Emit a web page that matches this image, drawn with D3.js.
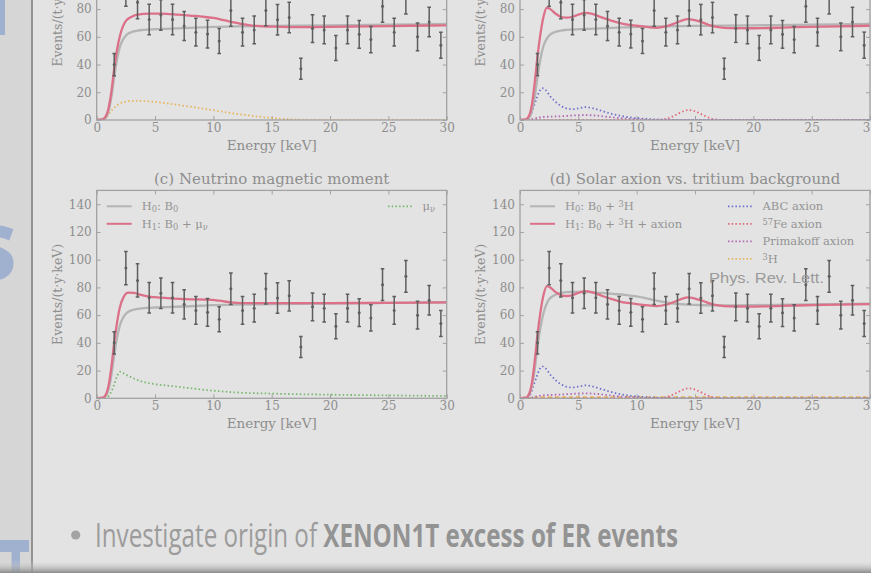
<!DOCTYPE html>
<html><head><meta charset="utf-8">
<script src="https://cdn.jsdelivr.net/npm/d3@7"></script>
<style>body{margin:0;background:#e3e3e3;} svg{display:block}</style>
</head><body><svg id="c" width="871" height="576"></svg>
<script>
// ---------- data ----------
const energy = [1.5,2.5,3.5,4.5,5.5,6.5,7.5,8.5,9.5,10.5,11.5,12.5,13.5,14.5,15.5,16.5,17.5,18.5,19.5,20.5,21.5,22.5,23.5,24.5,25.5,26.5,27.5,28.5,29.5];
const counts = [40,94,85,72.5,75.8,72.5,67.8,63.4,62,57,79,63.4,65,79,72.4,73.9,37,66,65,52,65,61.8,58,82,63.4,88,60,70.7,54];
const errors = [8,12,12,11,11,11,10.5,10,10,9,11.4,10,10,11,11,11,7.6,10,10,9,10,10,9.5,11.4,10,11.5,10,10.6,9.4];
const xTicks = [0,5,10,15,20,25,30];
const yTicks = [0,20,40,60,80,100,120,140];

const bkgB0 = [[0,0],[0.5,0.3],[0.8,2],[1.0,6],[1.25,16],[1.5,31],[1.75,44],[2,53],[2.25,58],[2.5,61],[3,63.5],[3.5,64.5],[4,65],[5,65.5],[6,65.8],[8,66.4],[10,67.2],[12,67.6],[15,67.9],[20,68.3],[25,68.8],[30,69.3]];
const bkgB0T = [[0,0],[0.5,0.4],[0.8,3],[1.0,8],[1.25,20],[1.5,37],[1.75,51],[2,61],[2.25,67.5],[2.5,71.5],[3,74.5],[3.5,76],[4.5,76.8],[5.5,76.8],[7,76],[8,75.3],[9,74.6],[10,73.6],[11,71.8],[12,70],[13,68.5],[14,67.7],[15,67.4],[17,67],[20,67.2],[25,67.8],[30,68.3]];
const fitAxion = [[0,0],[0.5,0.4],[0.8,3.5],[1.0,10],[1.25,26],[1.5,46],[1.75,62],[2,74],[2.3,81],[2.6,80],[3,77],[3.5,74.5],[4,73.8],[4.5,74.5],[5,76],[5.6,77.3],[6.2,76.5],[7,74],[7.7,72],[8.5,70],[9.2,68.8],[10,68],[11,67],[11.7,66.5],[12.5,67.5],[13.2,69.5],[13.8,71.5],[14.4,72.8],[15,72],[15.7,70.2],[16.3,68.3],[17,67],[18,66.3],[20,66.2],[23,66.8],[26,67.4],[30,68]];
const fitMu = [[0,0],[0.5,0.4],[0.8,3],[1.0,8.5],[1.25,22],[1.5,40],[1.75,55],[2,66],[2.3,73],[2.7,76.3],[3.2,76],[3.8,74.6],[4.5,73.4],[5.5,72.6],[7.5,71.5],[9.5,71.2],[10.5,70.4],[11.5,69.2],[12.5,68.7],[15,68.6],[20,68.7],[25,68.9],[30,69.2]];
const tritium = [[0,0],[0.6,0],[0.8,1],[1.1,5],[1.4,8],[1.8,11],[2.2,12.6],[2.8,13.6],[3.5,13.8],[4.5,13.4],[5.5,12.6],[6.5,11.5],[7.5,10.2],[8.5,9],[9.5,7.7],[10.5,6.4],[11.5,5],[12.5,3.9],[13.5,2.8],[14.5,1.9],[15.5,1.1],[16.5,0.5],[17.5,0.15],[18.6,0],[30,0]];
const tritiumSmall = [[0,0],[0.7,0],[1,0.4],[2,0.7],[10,0.7],[20,0.7],[30,0.7]];
const muNu = [[0,0],[0.6,0],[0.9,0.7],[1.2,4],[1.5,10],[1.75,16],[2,19.2],[2.4,17.5],[3,15],[3.5,13.2],[4,11.8],[5,10.2],[6,9.2],[7,8.3],[8,7.3],[9,6.3],[10,5.5],[12,4.2],[15,3.4],[20,2.6],[25,2.1],[30,1.7]];
const abcAxion = [[0,0],[0.6,0],[0.9,3],[1.15,9],[1.4,15],[1.65,20.5],[1.9,23],[2.2,21.5],[2.6,17],[3,13.5],[3.5,10.2],[4,8.3],[4.5,7.8],[5,8.4],[5.6,9.3],[6.2,8.6],[7,6.6],[7.8,4.6],[8.6,3],[9.5,1.8],[10.5,1],[11.5,0.5],[12.5,0.2],[14,0],[30,0]];
const primakoff = [[0,0],[0.7,0],[1.2,1],[1.8,2],[2.5,2.4],[3.5,2.7],[4.5,3.2],[5.5,3.6],[6.5,3.2],[7.5,2.3],[8.5,1.4],[9.5,0.7],[10.5,0.3],[12,0],[30,0]];
const fe57 = [[0,0],[11.5,0],[12,0.2],[12.5,0.8],[13,2.2],[13.5,4.3],[14,6.3],[14.45,7.2],[14.9,6.6],[15.4,4.8],[15.9,2.7],[16.4,1.1],[16.9,0.3],[17.5,0],[30,0]];

// ---------- styles ----------
const C = {gray:"#b4b4b4", red:"#dc7088", blue:"#7070cc", fe:"#e2677a", purple:"#b066b6", yellow:"#e8b45a", green:"#74b86a",
  text:"#8e8e8e", spine:"#a2a2a2", data:"#5e5e5e"};
const SERIF = "DejaVu Serif";

const svg = d3.select("#c");
svg.append("rect").attr("width",871).attr("height",576).attr("fill","#e3e3e3");
// left strip of slide behind
svg.append("rect").attr("x",0).attr("y",0).attr("width",31).attr("height",576).attr("fill","#d6d6d6");
svg.append("rect").attr("x",0).attr("y",0).attr("width",5).attr("height",35).attr("fill","#a0b0cf");
svg.append("text").attr("x",16).attr("y",280).attr("text-anchor","end").attr("font-family","Open Sans").attr("font-weight",800).attr("font-size",74).attr("fill","#a0b0cf").text("S");
svg.append("rect").attr("x",0).attr("y",540).attr("width",29).attr("height",12).attr("fill","#a0b0cf");
svg.append("rect").attr("x",11.5).attr("y",551).attr("width",8.5).attr("height",22).attr("fill","#a0b0cf");
svg.append("rect").attr("x",31).attr("y",0).attr("width",2).attr("height",576).attr("fill","#929292");

const defs = svg.append("defs");

function richText(g, x, y, parts, size, color){
  const t = g.append("text").attr("x",x).attr("y",y).attr("font-family",SERIF).attr("font-size",size).attr("fill",color);
  parts.forEach(p=>{
    const s = t.append("tspan").text(p[0]);
    if(p[1]==="sub"){ s.attr("baseline-shift","-20%").attr("font-size",size*0.72); }
    if(p[1]==="sup"){ s.attr("baseline-shift","35%").attr("font-size",size*0.72); }
  });
  return t;
}

let clipId = 0;
function panel(o){
  const x = d3.scaleLinear().domain([0,30]).range([o.L, o.R]);
  const y = d3.scaleLinear().domain([0,150]).range([o.B, o.B - 207.9]);
  const g = svg.append("g");
  const id = "clip"+(clipId++);
  defs.append("clipPath").attr("id",id).append("rect").attr("x",o.L).attr("y",y(150)).attr("width",o.R-o.L).attr("height",o.B-y(150));

  const style = ax => { ax.selectAll("line").attr("stroke",C.spine).attr("stroke-width",1);
    ax.selectAll("text").attr("fill",C.text).attr("font-family",SERIF).attr("font-size",12);
    ax.select(".domain").remove(); };
  g.append("g").attr("transform",`translate(0,${o.B})`).call(d3.axisBottom(x).tickValues(xTicks).tickSize(-4).tickSizeOuter(0).tickPadding(3.5)).call(style);
  g.append("g").attr("transform",`translate(0,${y(150)})`).call(d3.axisTop(x).tickValues(xTicks).tickSize(-4).tickSizeOuter(0).tickFormat("")).call(style);
  g.append("g").attr("transform",`translate(${o.L},0)`).call(d3.axisLeft(y).tickValues(yTicks).tickSize(-4).tickSizeOuter(0).tickPadding(5)).call(style);
  g.append("g").attr("transform",`translate(${o.R},0)`).call(d3.axisRight(y).tickValues(yTicks).tickSize(-4).tickSizeOuter(0).tickFormat("")).call(style);

  g.append("text").attr("x",(o.L+o.R)/2).attr("y",o.B+29.5).attr("text-anchor","middle").attr("font-family",SERIF).attr("font-size",13.5).attr("fill",C.text).text("Energy [keV]");
  g.append("text").attr("transform",`translate(${o.L-35},${(o.B+y(150))/2}) rotate(-90)`).attr("text-anchor","middle").attr("font-family",SERIF).attr("font-size",12.5).attr("fill",C.text).text("Events/(t·y·keV)");
  if(o.title) g.append("text").attr("x",(o.L+o.R)/2).attr("y",y(150)-6).attr("text-anchor","middle").attr("font-family",SERIF).attr("font-size",15).attr("fill",C.text).text(o.title);

  const line = d3.line().x(d=>x(d[0])).y(d=>y(d[1])).curve(d3.curveMonotoneX);
  const plot = g.append("g").attr("clip-path",`url(#${id})`);
  o.comps.forEach(c=>{
    plot.append("path").datum(c.data).attr("d",line).attr("fill","none").attr("stroke",c.color).attr("stroke-width",c.w||1.8)
      .attr("stroke-dasharray",c.dash||null);
  });
  o.fits.forEach(c=>{
    plot.append("path").datum(c.data).attr("d",line).attr("fill","none").attr("stroke",c.color).attr("stroke-width",2.3);
  });
  const pts = plot.append("g").attr("stroke",C.data).attr("stroke-width",1.5);
  energy.forEach((e,i)=>{
    const cx = x(e), y1 = y(counts[i]-errors[i]), y2 = y(counts[i]+errors[i]);
    pts.append("line").attr("x1",cx).attr("x2",cx).attr("y1",y1).attr("y2",y2);
    pts.append("line").attr("x1",cx-1.8).attr("x2",cx+1.8).attr("y1",y1).attr("y2",y1);
    pts.append("line").attr("x1",cx-1.8).attr("x2",cx+1.8).attr("y1",y2).attr("y2",y2);
    pts.append("circle").attr("cx",cx).attr("cy",y(counts[i])).attr("r",1.5).attr("fill",C.data).attr("stroke","none");
  });
  g.append("rect").attr("x",o.L).attr("y",y(150)).attr("width",o.R-o.L).attr("height",o.B-y(150)).attr("fill","none").attr("stroke",C.spine).attr("stroke-width",1.3);

  if(o.legL){
    o.legL.forEach((r,i)=>{
      const yy = o.B-192+17.5*i;
      g.append("line").attr("x1",o.L+10).attr("x2",o.L+35).attr("y1",yy).attr("y2",yy).attr("stroke",r.color).attr("stroke-width",2);
      richText(g, o.L+45, yy+4, r.label, 11.5, "#949494");
    });
  }
  if(o.legR){
    o.legR.forEach((r,i)=>{
      const yy = o.B-192+17.5*i;
      g.append("line").attr("x1",o.legRx).attr("x2",o.legRx+25).attr("y1",yy).attr("y2",yy).attr("stroke",r.color).attr("stroke-width",1.8).attr("stroke-dasharray","1.5,2.2");
      richText(g, o.legRx+34.5, yy+4, r.label, 11.5, "#949494");
    });
  }
  return {g,x,y};
}

const dot = "1.5,2.4";
// (a) top-left
panel({L:96.7,R:446.7,B:120,
  comps:[{data:tritium,color:C.yellow,dash:dot}],
  fits:[{data:bkgB0,color:C.gray},{data:bkgB0T,color:C.red}]});
// (b) top-right
panel({L:520,R:870,B:120,
  comps:[{data:primakoff,color:C.purple,dash:dot},{data:fe57,color:C.fe,dash:dot},{data:abcAxion,color:C.blue,dash:dot}],
  fits:[{data:bkgB0,color:C.gray},{data:fitAxion,color:C.red}]});
// (c) bottom-left
panel({L:96.7,R:446.7,B:398.3,title:"(c) Neutrino magnetic moment",
  comps:[{data:muNu,color:C.green,dash:dot}],
  fits:[{data:bkgB0,color:C.gray},{data:fitMu,color:C.red}],
  legL:[{color:C.gray,label:[["H"],["0","sub"],[": B"],["0","sub"]]},{color:C.red,label:[["H"],["1","sub"],[": B"],["0","sub"],[" + μ"],["ν","sub"]]}],
  legR:[{color:C.green,label:[["μ"],["ν","sub"]]}], legRx:388});
// (d) bottom-right
const pd = panel({L:520,R:870,B:398.3,title:"(d) Solar axion vs. tritium background",
  comps:[{data:tritiumSmall,color:C.yellow,dash:"4,3",w:2.2},{data:primakoff,color:C.purple,dash:dot},{data:fe57,color:C.fe,dash:dot},{data:abcAxion,color:C.blue,dash:dot}],
  fits:[{data:bkgB0T,color:C.gray},{data:fitAxion,color:C.red}],
  legL:[{color:C.gray,label:[["H"],["0","sub"],[": B"],["0","sub"],[" + "],["3","sup"],["H"]]},{color:C.red,label:[["H"],["1","sub"],[": B"],["0","sub"],[" + "],["3","sup"],["H + axion"]]}],
  legR:[{color:C.blue,label:[["ABC axion"]]},{color:C.fe,label:[["57","sup"],["Fe axion"]]},{color:C.purple,label:[["Primakoff axion"]]},{color:C.yellow,label:[["3","sup"],["H"]]}], legRx:728});
pd.g.append("text").attr("x",709).attr("y",282.5).attr("font-family","Liberation Sans").attr("font-size",15.5).attr("fill","#9a9a9a").attr("textLength",115).attr("lengthAdjust","spacingAndGlyphs").text("Phys. Rev. Lett.");

// slide bullet text
svg.append("circle").attr("cx",75.7).attr("cy",535).attr("r",4.6).attr("fill","#a3a3a3");
const bt = svg.append("text").attr("x",95).attr("y",546.5).attr("font-family","Open Sans").attr("font-size",32)
  .attr("textLength",583).attr("lengthAdjust","spacingAndGlyphs");
bt.append("tspan").attr("fill","#9c9c9c").text("Investigate origin of ");
bt.append("tspan").attr("fill","#939393").attr("font-weight",700).text("XENON1T excess of ER events");
const grad = defs.append("linearGradient").attr("id","shade").attr("x1",0).attr("x2",0).attr("y1",0).attr("y2",1);
grad.append("stop").attr("offset","0%").attr("stop-color","#e3e3e3").attr("stop-opacity",0);
grad.append("stop").attr("offset","100%").attr("stop-color","#8a8a8a").attr("stop-opacity",1);
svg.append("rect").attr("x",0).attr("y",560).attr("width",871).attr("height",13).attr("fill","url(#shade)");
svg.append("rect").attr("x",0).attr("y",573).attr("width",871).attr("height",3).attr("fill","#ffffff");
</script></body></html>
